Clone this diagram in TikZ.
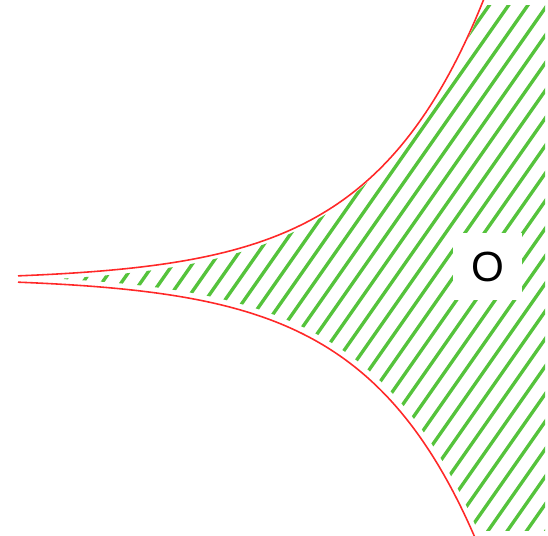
\documentclass[tikz,border=0pt]{standalone}
\usepackage{fontspec}
\setmainfont{Liberation Sans}
\begin{document}
\begin{tikzpicture}[x=0.01cm,y=-0.01cm]
\definecolor{hatchgreen}{RGB}{85,195,60}
\definecolor{curvered}{RGB}{255,40,40}
\tikzset{hatch/.style={hatchgreen, line width=0.95pt},
         curve/.style={curvered, line width=0.45pt},
         labelbox/.style={fill=white, minimum width=0.69cm, minimum height=0.67cm, inner sep=0pt, font=\fontsize{12}{14}\selectfont}}
\useasboundingbox (0,0) rectangle (548,535);
\begin{scope}
\clip (0,5) rectangle (545,530);
\clip[shift={(3.6,-5.1)}] plot[domain=18:495,samples=150] ({\x},{279-3.8*exp(0.0089*\x)+1.3})
  -- (700,-100) -- (700,700)
  -- plot[domain=495:18,samples=150] ({\x},{279+3.8*exp(0.0089*\x)-1.3}) -- cycle;
\clip[shift={(-3.6,5.1)}] plot[domain=18:495,samples=150] ({\x},{279-3.8*exp(0.0089*\x)+1.3})
  -- (700,-100) -- (700,700)
  -- plot[domain=495:18,samples=150] ({\x},{279+3.8*exp(0.0089*\x)-1.3}) -- cycle;
\foreach \k in {-23,...,16}{
  \draw[hatch] ({628+19.3*\k},0) -- ({628+19.3*\k-374.5},535);
}
\end{scope}
\draw[curve] plot[domain=18:484,samples=200] ({\x},{279-3.8*exp(0.0089*\x)+1.3});
\draw[curve] plot[domain=18:476,samples=200] ({\x},{279+3.8*exp(0.0089*\x)-1.3});
\node[labelbox] (o) at (487.5,266.5) {O};
\end{tikzpicture}
\end{document}
